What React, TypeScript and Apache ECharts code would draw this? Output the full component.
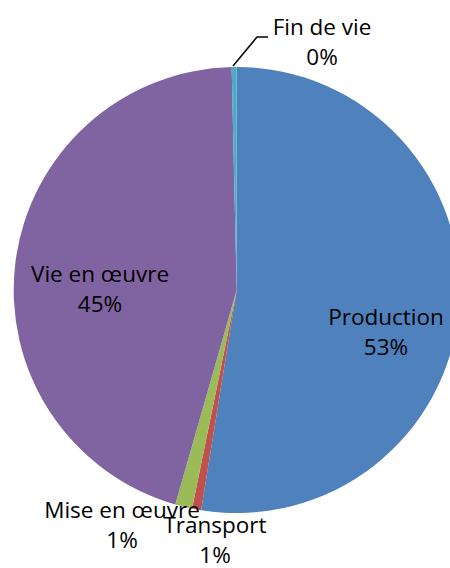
import React, { useEffect, useRef } from "react";
import * as echarts from "echarts";

const categories = ["Production", "Transport", "Mise en œuvre", "Vie en œuvre", "Fin de vie"];
const values = [52.55, 0.66, 1.23, 45.2, 0.36];
const colors = ["#4F81BD", "#C0504D", "#9BBB59", "#8064A2", "#4BACC6"];

// label block centres (layout only)
const labelPos: [number, number][] = [
  [386, 331],
  [215, 539],
  [122, 524],
  [100, 288],
  [322, 41],
];

export default function App() {
  const ref = useRef<HTMLDivElement>(null);
  useEffect(() => {
    if (!ref.current) return;
    const chart = echarts.init(ref.current, null, { renderer: "svg" });
    chart.setOption({
      animation: false,
      backgroundColor: "#ffffff",
      series: [
        {
          type: "pie",
          center: [236.7, 290],
          radius: 223,
          startAngle: 90,
          clockwise: true,
          avoidLabelOverlap: false,
          percentPrecision: 0,
          itemStyle: { borderWidth: 0 },
          emphasis: { disabled: true },
          label: {
            show: true,
            position: "inside",
            formatter: "{b}\n{d}%",
            color: "#000",
            fontFamily: "Open Sans",
            fontSize: 22.5,
            lineHeight: 30,
            align: "center",
            overflow: "none",
          },
          labelLine: { show: false },
          labelLayout: (p: any) => {
            const pos = labelPos[p.dataIndex];
            const res: any = { x: pos[0], y: pos[1], align: "center", verticalAlign: "middle" };
            if (p.dataIndex === 4) {
              res.labelLinePoints = [
                [233, 66],
                [257, 37],
                [268, 37],
              ];
            }
            return res;
          },
          data: categories.map((name, i) => {
            const d: any = { name, value: values[i], itemStyle: { color: colors[i] } };
            if (i === 4) {
              d.label = { position: "outside" };
              d.labelLine = { show: true, length: 10, length2: 10, lineStyle: { color: "#000", width: 1.5 } };
            }
            return d;
          }),
        },
      ],
    });
    return () => chart.dispose();
  }, []);
  return (
    <div
      ref={ref}
      style={{ position: "fixed", left: 0, top: 0, width: 450, height: 568 }}
    />
  );
}
